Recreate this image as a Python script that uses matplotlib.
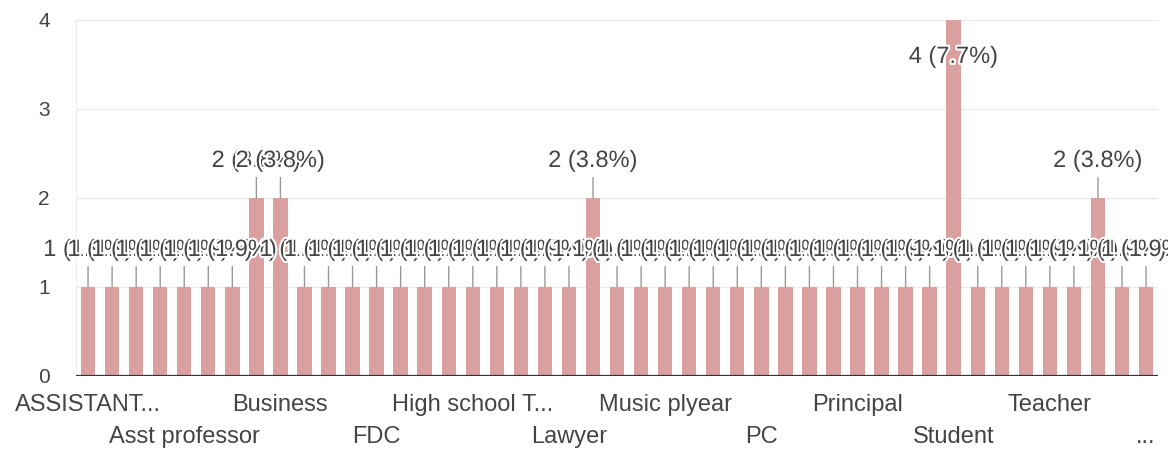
import matplotlib
matplotlib.use("Agg")
import matplotlib.pyplot as plt
import matplotlib.patheffects as pe

# answer counts per occupation (52 responses)
values = [1, 1, 1, 1, 1, 1, 1, 2, 2, 1, 1, 1, 1, 1, 1, 1, 1, 1, 1, 1, 1, 2, 1,
          1, 1, 1, 1, 1, 1, 1, 1, 1, 1, 1, 1, 1, 4, 1, 1, 1, 1, 1, 2, 1, 1]
# only every 4th category name is shown, on two alternating rows
row1_labels = ["ASSISTANT...", "Business", "High school T...", "Music plyear",
               "Principal", "Teacher"]
row2_labels = ["Asst professor", "FDC", "Lawyer", "PC", "Student", "..."]

bar_color = "#d9a09f"
text_color = "#444444"
plt.rcParams["font.family"] = ["Liberation Sans", "DejaVu Sans"]

total = sum(values)
x = list(range(len(values)))

fig = plt.figure(figsize=(11.68, 4.53), dpi=100)
ax = fig.add_axes([0.0651, 0.170, 0.9264, 0.7859])

ax.bar(x, values, width=0.6, color=bar_color, zorder=2)
ax.set_xlim(-0.5, len(values) - 0.5)
ax.set_ylim(0, 4)

ax.set_yticks([0, 1, 2, 3, 4])
ax.tick_params(axis="y", length=0, pad=19, labelsize=15, labelcolor=text_color)
ax.grid(axis="y", color="#ebebeb", linewidth=1, zorder=0)
ax.axhline(0, color="#333333", linewidth=1.6, zorder=3)

# two rows of category labels
ax.set_xticks(x[0::8])
ax.set_xticklabels(row1_labels)
ax.set_xticks(x[4::8], minor=True)
ax.set_xticklabels(row2_labels, minor=True)
ax.tick_params(axis="x", which="major", length=0, pad=13, labelsize=17, labelcolor=text_color)
ax.tick_params(axis="x", which="minor", length=0, pad=36, labelsize=17, labelcolor=text_color)

for s in ["top", "right", "bottom"]:
    ax.spines[s].set_visible(False)
ax.spines["left"].set_color("#eeeeee")

halo = [pe.withStroke(linewidth=3, foreground="white")]
ymax = ax.get_ylim()[1]
for i, v in zip(x, values):
    lab = "%d (%.1f%%)" % (v, 100.0 * v / total)
    if v >= ymax:
        ax.annotate(lab, xy=(i, v), xytext=(0, -37), textcoords="offset pixels",
                    ha="center", va="center", fontsize=17, color=text_color,
                    path_effects=halo, zorder=5)
    else:
        ax.annotate(lab, xy=(i, v), xytext=(0, 37), textcoords="offset pixels",
                    ha="center", va="center", fontsize=17, color=text_color,
                    path_effects=halo, zorder=5,
                    arrowprops=dict(arrowstyle="-", color="#999999", lw=1,
                                    relpos=(0.5, 0), shrinkA=2, shrinkB=0))

fig.savefig("out.png", dpi=100)
